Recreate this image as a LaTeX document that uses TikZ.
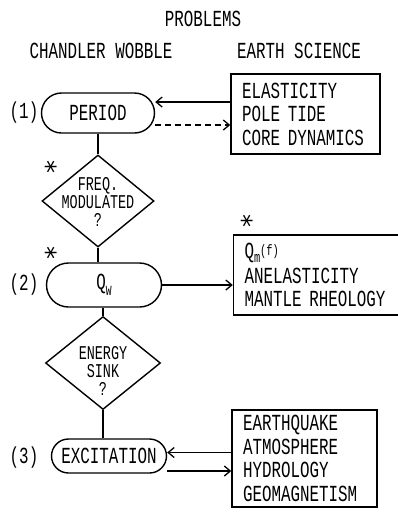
\documentclass[tikz,border=0pt]{standalone}
\usepackage{fontspec}
\usepackage{tikz}
\usetikzlibrary{arrows.meta,positioning,shapes.geometric,shapes.misc}
\newfontfamily\plotfont{Liberation Mono}[FakeStretch=0.69]
\newfontfamily\starfont{DejaVu Sans}

\begin{document}
\begin{tikzpicture}[x=1pt,y=-1pt,
  every node/.style={font=\plotfont\fontsize{23}{23.5}\selectfont},
  pill/.style={rounded rectangle,draw,line width=1.4pt,inner sep=0pt},
  dmd/.style={diamond,draw,line width=1.4pt,inner sep=0pt},
  dtext/.style={align=center,font=\plotfont\fontsize{19.5}{18}\selectfont},
  esbox/.style={rectangle,draw,line width=1.4pt,align=left,inner xsep=11pt,inner ysep=0pt},
  arr/.style={-{Straight Barb[length=6pt,width=10pt]},line width=1.3pt},
  wire/.style={line width=1.4pt}]
  \useasboundingbox (0,0) rectangle (397,515);
  % headings
  \node (problems) at (203,19) {PROBLEMS};
  \node (cw) at (101,51) {CHANDLER WOBBLE};
  \node (es) at (299,51) {EARTH SCIENCE};
  % chandler wobble column
  \node[pill,minimum width=113pt,minimum height=40pt] (period) at (98,113) {PERIOD};
  \node[dmd,minimum width=112pt,minimum height=92pt] (freq) at (98,201) {};
  \node[dtext] (freqtxt) at ([yshift=-1pt]freq) {FREQ.\\MODULATED\\?};
  \node[pill,minimum width=115pt,minimum height=44pt] (qw) at (104,285) {Q\raisebox{-6pt}{\fontsize{14}{14}\selectfont W}};
  \node[dmd,minimum width=115pt,minimum height=93pt] (sink) at (103,363) {};
  \node[dtext] (sinktxt) at ([yshift=-8pt]sink) {ENERGY\\SINK\\?};
  \node[pill,minimum width=115pt,minimum height=34pt] (excit) at (109,456) {EXCITATION};
  \foreach \n/\y in {1/113,2/285,3/458}
    \node (lbl\n) at (24,\y) {(\n)};
  \foreach \x/\y [count=\k] in {55/167,55/253,251/221}
    \node[font=\starfont\fontsize{26}{26}\selectfont,rotate=90] (star\k) at (\x,\y) {*};
  % earth science boxes
  \node[esbox,text width=127pt,minimum height=80pt] (esA) at (305.5,114)
    {ELASTICITY\\POLE TIDE\\CORE DYNAMICS};
  \node[esbox,text width=145pt,minimum height=80pt] (esB) at (317,275)
    {Q\raisebox{-4pt}{\fontsize{15}{15}\selectfont m}\raisebox{3pt}{\fontsize{15}{15}\selectfont(f)}\\[1.5pt]ANELASTICITY\\MANTLE RHEOLOGY};
  \node[esbox,text width=123pt,minimum height=97pt] (esC) at (304.5,458.5)
    {EARTHQUAKE\\ATMOSPHERE\\HYDROLOGY\\GEOMAGNETISM};
  % vertical links
  \draw[wire] (period.south -| freq.north) -- (freq.north);
  \draw[wire] (freq.south) -- (freq.south |- qw.north);
  \draw[wire] (qw.south -| sink.north) -- (sink.north);
  \draw[wire] (sink.south) -- (sink.south |- excit.north);
  % arrows to and from the boxes
  \coordinate (a1) at ([yshift=12pt]esA.west);
  \coordinate (a2) at ([yshift=-12pt]period.east);
  \draw[arr] (a1) -- (a1 -| period.east);
  \draw[arr,dashed,dash pattern=on 6pt off 4pt] (a2) -- (a2 -| esA.west);
  \draw[arr] (qw.east) -- (qw.east -| esB.west);
  \coordinate (a3) at ([yshift=6pt]esC.west);
  \coordinate (a4) at ([yshift=-15pt]excit.east);
  \draw[arr] (a3) -- (a3 -| excit.east);
  \draw[arr] (a4) -- (a4 -| esC.west);
\end{tikzpicture}
\end{document}
